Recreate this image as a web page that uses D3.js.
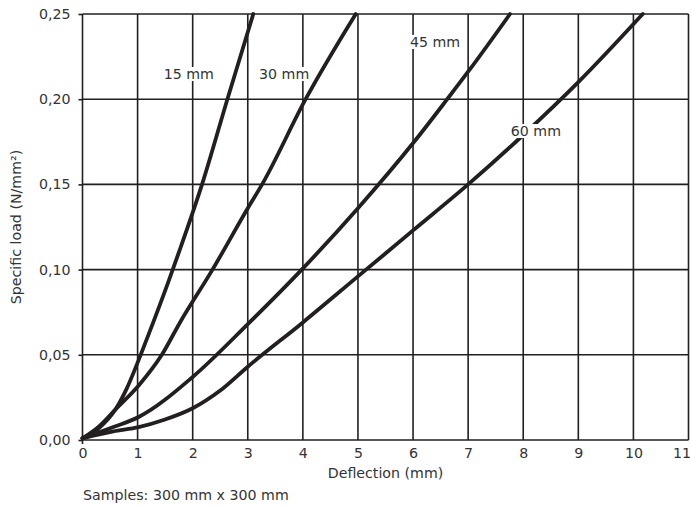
<!DOCTYPE html>
<html><head><meta charset="utf-8">
<script src="https://cdn.jsdelivr.net/npm/d3@7/dist/d3.min.js"></script>
<style>body{margin:0;background:#fff}svg text{font-family:"DejaVu Sans",sans-serif;fill:#333}</style>
</head><body><svg id="c" width="691" height="506"></svg>
<script>
const xTicks = [0,1,2,3,4,5,6,7,8,9,10,11];
const yTicks = [0,0.05,0.10,0.15,0.20,0.25];
const seriesNames = ["15 mm","30 mm","45 mm","60 mm"];
const s15 = [[0,0.001],[0.3,0.007],[0.6,0.018],[0.8,0.03],[1.02,0.047],[1.2,0.062],[1.56,0.093],[1.77,0.112],[2.17,0.15],[2.63,0.20],[3.10,0.25]];
const s30 = [[0,0.001],[0.3,0.008],[0.6,0.018],[1.02,0.032],[1.44,0.05],[1.77,0.069],[2.36,0.10],[3.0,0.136],[3.26,0.15],[4.05,0.20],[4.96,0.25]];
const s45 = [[0,0.001],[0.56,0.0076],[1.02,0.0135],[2.0,0.037],[3.0,0.068],[3.98,0.10],[5.0,0.136],[6.02,0.175],[6.62,0.20],[7.02,0.217],[7.76,0.25]];
const s60 = [[0,0.001],[0.56,0.005],[1.02,0.0075],[1.47,0.0117],[2.0,0.0186],[2.5,0.029],[3.0,0.043],[4.0,0.069],[5.0,0.096],[6.0,0.123],[7.0,0.150],[8.0,0.179],[9.0,0.210],[10.17,0.25]];
const labelPos = [[1.93,0.2148],[3.66,0.2148],[6.40,0.2336],[8.23,0.1813]];
const series = [s15,s30,s45,s60];

const svg = d3.select("#c");
const x = d3.scaleLinear().domain([0,11]).range([82.5,688.5]);
const y = d3.scaleLinear().domain([0,0.25]).range([440,14]);
const ink = "#231f20";
const fs = "14.2px";

// grid
svg.append("g").selectAll("line").data(xTicks).join("line")
  .attr("x1",d=>x(d)).attr("x2",d=>x(d)).attr("y1",y(0)).attr("y2",y(0.25))
  .attr("stroke",ink).attr("stroke-width",1.6);
svg.append("g").selectAll("line").data(yTicks).join("line")
  .attr("x1",x(0)).attr("x2",x(11)).attr("y1",d=>y(d)).attr("y2",d=>y(d))
  .attr("stroke",ink).attr("stroke-width",1.6);

// axes
const fmt = d=>d3.format(".2f")(d).replace(".",",");
const ya = svg.append("g").attr("transform",`translate(${x(0)},0)`)
  .call(d3.axisLeft(y).tickValues(yTicks).tickFormat(fmt).tickSize(4).tickPadding(8));
ya.select(".domain").remove();
ya.selectAll("line").attr("stroke",ink).attr("stroke-width",1.6);
ya.selectAll("text").style("font-size",fs).attr("fill","#333");
const xa = svg.append("g").attr("transform",`translate(0,${y(0)})`)
  .call(d3.axisBottom(x).tickValues(xTicks).tickFormat(d=>d).tickSize(0).tickPadding(8));
xa.select(".domain").remove();
xa.selectAll("text").style("font-size",fs).attr("fill","#333");
xa.selectAll("text").filter(d=>d===11).attr("text-anchor","end").attr("x",2);
svg.append("line").attr("x1",x(0)).attr("x2",x(0)).attr("y1",y(0)).attr("y2",y(0)+4).attr("stroke",ink).attr("stroke-width",1.6);

// lines
const line = d3.line().x(d=>x(d[0])).y(d=>y(d[1])).curve(d3.curveMonotoneX);
svg.append("g").selectAll("path").data(series).join("path")
  .attr("d",line).attr("fill","none").attr("stroke",ink)
  .attr("stroke-width",3.8).attr("stroke-linejoin","round").attr("stroke-linecap","round");

// labels
const lg = svg.append("g").selectAll("g").data(seriesNames).join("g")
  .attr("transform",(d,i)=>`translate(${x(labelPos[i][0])},${y(labelPos[i][1])})`);
lg.each(function(d,i){
  const g = d3.select(this);
  const t = g.append("text").text(d).attr("text-anchor","middle").attr("dy","0.35em").style("font-size",fs);
  const b = t.node().getBBox();
  g.insert("rect","text").attr("x",b.x-1).attr("y",b.y+1).attr("width",b.width+2).attr("height",b.height-2).attr("fill","#fff");
});

svg.append("text").attr("x",(x(0)+x(11))/2).attr("y",478).attr("text-anchor","middle").style("font-size",fs).text("Deflection (mm)");
svg.append("text").attr("transform",`translate(21,${y(0.125)}) rotate(-90)`).attr("text-anchor","middle").style("font-size",fs).text("Specific load (N/mm²)");
svg.append("text").attr("x",83).attr("y",500).style("font-size",fs).text("Samples: 300 mm x 300 mm");
</script></body></html>
